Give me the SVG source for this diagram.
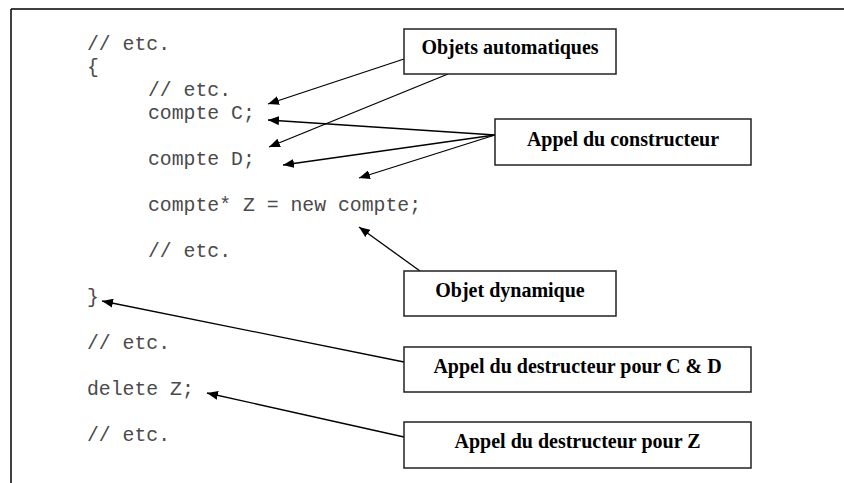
<svg xmlns="http://www.w3.org/2000/svg" width="844" height="483" viewBox="0 0 844 483">
<style>
.code{font-family:"Liberation Mono","Courier New",monospace;font-size:19.8px;fill:#4a4a4a}
.box rect{fill:#fff;stroke:#222;stroke-width:1.5}
.box text{font-family:"Liberation Serif","Times New Roman",serif;font-weight:bold;font-size:20px;fill:#000;text-anchor:middle}
.conn line{stroke:#000;stroke-width:1.3;marker-end:url(#ah)}
</style>
<defs>
<marker id="ah" markerUnits="userSpaceOnUse" markerWidth="11" markerHeight="9" refX="11" refY="4.5" orient="auto">
<path d="M0,0 L11,4.5 L0,9 z" fill="#000"/>
</marker>
</defs>
<rect width="844" height="483" fill="#fff"/>
<g id="frame" stroke="#000" stroke-width="1.5" fill="none">
<line x1="11" y1="9" x2="844" y2="9"/>
<line x1="11" y1="9" x2="11" y2="483"/>
</g>
<g id="code">
<text class="code" x="87" y="50">// etc.</text>
<text class="code" x="87" y="73">{</text>
<text class="code" x="148" y="96">// etc.</text>
<text class="code" x="148" y="119">compte C;</text>
<text class="code" x="148" y="165">compte D;</text>
<text class="code" x="148" y="211">compte* Z = new compte;</text>
<text class="code" x="148" y="257">// etc.</text>
<text class="code" x="87" y="303">}</text>
<text class="code" x="87" y="349">// etc.</text>
<text class="code" x="87" y="395">delete Z;</text>
<text class="code" x="87" y="441">// etc.</text>
</g>
<g id="connectors" class="conn">
<line x1="404" y1="59" x2="268" y2="104"/>
<line x1="448" y1="74" x2="269" y2="147"/>
<line x1="495" y1="135" x2="268" y2="120"/>
<line x1="495" y1="135" x2="283" y2="165"/>
<line x1="495" y1="135" x2="359" y2="178"/>
<line x1="420" y1="271" x2="359" y2="227"/>
<line x1="404" y1="362" x2="102" y2="301"/>
<line x1="404" y1="437" x2="207" y2="393"/>
</g>
<g id="objets-automatiques" class="box">
<rect x="404" y="29" width="212" height="45"/>
<text x="510" y="54">Objets automatiques</text>
</g>
<g id="appel-constructeur" class="box">
<rect x="495" y="119" width="256" height="46"/>
<text x="623" y="146">Appel du constructeur</text>
</g>
<g id="objet-dynamique" class="box">
<rect x="404" y="271" width="212" height="45"/>
<text x="510" y="297">Objet dynamique</text>
</g>
<g id="destructeur-cd" class="box">
<rect x="404" y="347" width="347" height="45"/>
<text x="577.5" y="373">Appel du destructeur pour C &amp; D</text>
</g>
<g id="destructeur-z" class="box">
<rect x="404" y="422" width="347" height="46"/>
<text x="577.5" y="448">Appel du destructeur pour Z</text>
</g>
</svg>
